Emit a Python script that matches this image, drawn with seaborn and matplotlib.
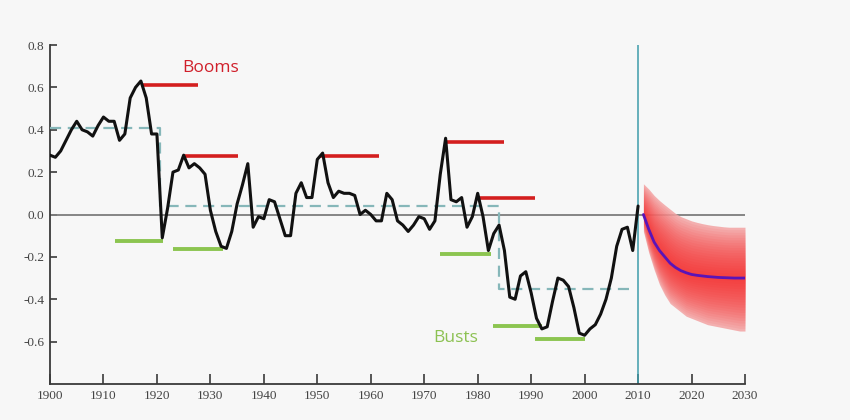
import numpy as np
import pandas as pd
import matplotlib
matplotlib.use("Agg")
import matplotlib.pyplot as plt
import seaborn as sns

# Annual series, 1900-2010
years = list(range(1900, 2011))
values = [
    0.28, 0.27, 0.30, 0.35, 0.40, 0.44, 0.40, 0.39, 0.37, 0.42,
    0.46, 0.44, 0.44, 0.35, 0.38, 0.55, 0.60, 0.63, 0.55, 0.38,
    0.38, -0.11, 0.03, 0.20, 0.21, 0.28, 0.22, 0.24, 0.22, 0.19,
    0.02, -0.08, -0.15, -0.16, -0.08, 0.05, 0.14, 0.24, -0.06, -0.01,
    -0.02, 0.07, 0.06, -0.02, -0.10, -0.10, 0.10, 0.15, 0.08, 0.08,
    0.26, 0.29, 0.15, 0.08, 0.11, 0.10, 0.10, 0.09, 0.00, 0.02,
    0.00, -0.03, -0.03, 0.10, 0.07, -0.03, -0.05, -0.08, -0.05, -0.01,
    -0.02, -0.07, -0.03, 0.19, 0.36, 0.07, 0.06, 0.08, -0.06, -0.01,
    0.10, -0.01, -0.17, -0.09, -0.05, -0.17, -0.39, -0.40, -0.29, -0.27,
    -0.37, -0.49, -0.54, -0.53, -0.41, -0.30, -0.31, -0.34, -0.44, -0.56,
    -0.57, -0.54, -0.52, -0.47, -0.40, -0.30, -0.15, -0.07, -0.06, -0.17,
    0.04,
]

# Regime means (dashed step line)
regime_x = [1900, 1920.5, 1920.5, 1984, 1984, 2009]
regime_y = [0.41, 0.41, 0.04, 0.04, -0.35, -0.35]

# Boom and bust markers
boom_start = [1917.2, 1924.9, 1950.5, 1974.0, 1979.8]
boom_end = [1927.7, 1935.1, 1961.5, 1985.0, 1990.8]
boom_level = [0.61, 0.275, 0.275, 0.34, 0.077]

bust_start = [1912.1, 1923.0, 1972.9, 1982.8, 1990.7]
bust_end = [1921.1, 1932.3, 1982.4, 1992.1, 2000.0]
bust_level = [-0.123, -0.165, -0.185, -0.525, -0.587]

# Forecast 2011-2030: central path and outer band
fc_years = list(range(2011, 2031))
fc_center = [0.00, -0.07, -0.13, -0.17, -0.20, -0.23, -0.25, -0.265, -0.275, -0.283,
             -0.287, -0.290, -0.293, -0.295, -0.297, -0.298, -0.299, -0.300, -0.300, -0.300]
fc_upper = [0.145, 0.12, 0.09, 0.066, 0.045, 0.025, 0.005, -0.01, -0.02, -0.03,
            -0.037, -0.043, -0.048, -0.052, -0.055, -0.058, -0.06, -0.06, -0.06, -0.06]
fc_lower = [-0.08, -0.18, -0.26, -0.33, -0.38, -0.42, -0.44, -0.46, -0.48, -0.49,
            -0.50, -0.51, -0.52, -0.525, -0.53, -0.535, -0.54, -0.545, -0.55, -0.55]

x_ticks = list(range(1900, 2031, 10))
y_ticks = [-0.6, -0.4, -0.2, 0.0, 0.2, 0.4, 0.6, 0.8]

sns.set_theme(style="ticks")
plt.rcParams["font.family"] = ["DejaVu Sans"]

bg = "#f7f7f7"
fig = plt.figure(figsize=(8.5, 4.2), dpi=100, facecolor=bg)
ax = fig.add_axes([50 / 850, 36 / 420, 695 / 850, 339 / 420])
ax.set_facecolor(bg)

hist = pd.DataFrame({"year": years, "value": values})
fc = pd.DataFrame({"year": fc_years, "center": fc_center,
                   "upper": fc_upper, "lower": fc_lower})

# Zero line and forecast divider
ax.axhline(0, color="#7d7d7d", lw=1.3, zorder=1)
ax.axvline(2010, color="#3e9cab", lw=1.1, zorder=1)

# Fan chart: nested bands, darker toward the centre
fy = np.array(fc_years, dtype=float)
fcen = np.array(fc_center)
fup = np.array(fc_upper)
flo = np.array(fc_lower)
ax.fill_between(fy, flo, fup, color="#f3a3a3", alpha=0.85, lw=0, zorder=2)
for frac in np.linspace(0.95, 0.05, 19):
    ax.fill_between(fy, fcen - frac * (fcen - flo), fcen + frac * (fup - fcen),
                    color="#ff1e1e", alpha=0.065, lw=0, zorder=2)
sns.lineplot(data=fc, x="year", y="center", ax=ax, color="#5a14b8", lw=2.0, zorder=4)

# Regime means
ax.plot(regime_x, regime_y, color="#86b7b9", lw=1.6, dashes=(5, 3), zorder=3)

# Booms / busts
for s, e, lv in zip(boom_start, boom_end, boom_level):
    ax.plot([s, e], [lv, lv], color="#d41f1f", lw=2.6, solid_capstyle="butt", zorder=3)
for s, e, lv in zip(bust_start, bust_end, bust_level):
    ax.plot([s, e], [lv, lv], color="#8cc550", lw=2.8, solid_capstyle="butt", zorder=3)

# Historical series
sns.lineplot(data=hist, x="year", y="value", ax=ax, color="#111111", lw=2.2, zorder=5)

ax.text(1924.7, 0.69, "Booms", color="#d01f2a", fontsize=12.5,
        family=["Open Sans", "DejaVu Sans"], va="center", ha="left")
ax.text(1971.7, -0.585, "Busts", color="#8cc152", fontsize=12.5,
        family=["Open Sans", "DejaVu Sans"], va="center", ha="left")

ax.set_xlim(1900, 2030)
ax.set_ylim(-0.8, 0.8)
ax.set_xticks(x_ticks)
ax.set_xticklabels([str(t) for t in x_ticks])
ax.set_yticks(y_ticks)
ax.set_yticklabels([f"{t:.1f}" for t in y_ticks])
ax.set_xlabel("")
ax.set_ylabel("")

for side in ["top", "right"]:
    ax.spines[side].set_visible(False)
for side in ["left", "bottom"]:
    ax.spines[side].set_color("#3a3a3a")
    ax.spines[side].set_linewidth(1.3)

ax.tick_params(axis="x", direction="in", length=7, width=1.2, color="#3a3a3a",
               labelsize=9.5, labelcolor="#444444", pad=4)
ax.tick_params(axis="y", direction="in", length=5, width=1.2, color="#3a3a3a",
               labelsize=9.5, labelcolor="#444444", pad=4)
for lbl in ax.get_xticklabels() + ax.get_yticklabels():
    lbl.set_family("Liberation Serif")

fig.savefig("out.png", dpi=100, facecolor=bg)
